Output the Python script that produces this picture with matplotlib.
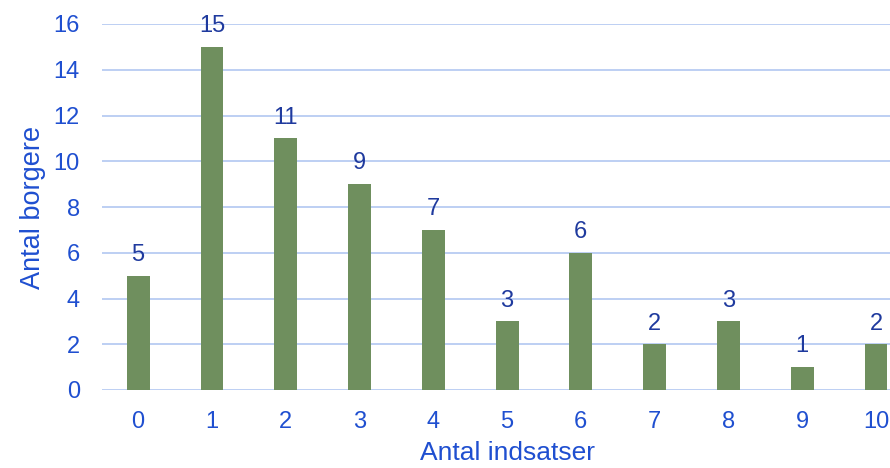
import matplotlib
matplotlib.use("Agg")
import matplotlib.pyplot as plt

categories = ["0", "1", "2", "3", "4", "5", "6", "7", "8", "9", "10"]
values = [5, 15, 11, 9, 7, 3, 6, 2, 3, 1, 2]
yticks = [0, 2, 4, 6, 8, 10, 12, 14, 16]

plt.rcParams['font.family'] = ['Liberation Sans', 'DejaVu Sans']

fig = plt.figure(figsize=(8.9, 4.68), dpi=100)
ax = fig.add_axes([102/890, 1 - 390/468, 1 - 102/890, (390 - 24)/468])

x = list(range(len(categories)))
bars = ax.bar(x, values, width=0.31, color="#6F8F5E", zorder=3)
for xi, v in zip(x, values):
    ax.annotate(str(v), (xi, v), xytext=(0, 7), textcoords="offset points",
                ha="center", va="bottom", fontsize=17, color="#1F3A9E")

ax.set_xlim(-0.49, 10.19)
ax.set_ylim(0, 16)
ax.set_yticks(yticks)
ax.set_xticks(x)
ax.set_xticklabels(categories)
ax.grid(axis="y", color="#B8CBF2", linewidth=1.3, zorder=0)
ax.tick_params(axis="both", length=0, labelsize=17, colors="#1F4FD0")
ax.tick_params(axis="x", pad=15)
ax.tick_params(axis="y", pad=16)
for s in ax.spines.values():
    s.set_visible(False)
ax.set_xlabel("Antal indsatser", fontsize=19, color="#1F4FD0", labelpad=6)
ax.xaxis.label.set_x(0.514)
ax.set_ylabel("Antal borgere", fontsize=19.5, color="#1F4FD0", labelpad=5)

fig.savefig("out.png", dpi=100)
